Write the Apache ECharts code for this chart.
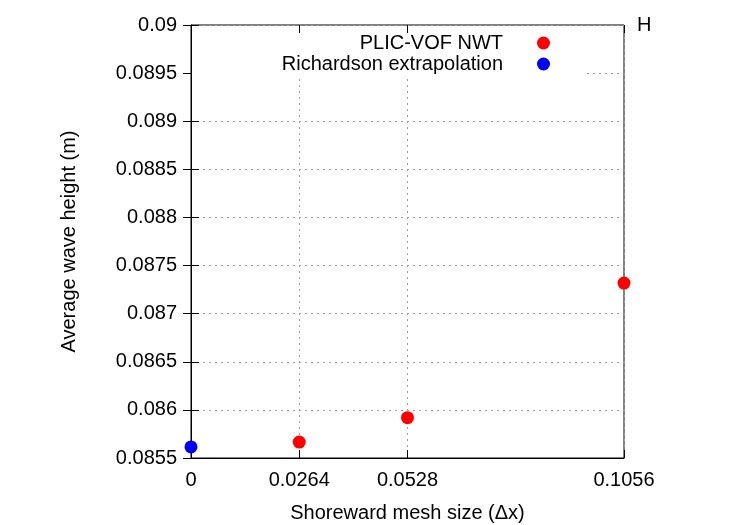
<!DOCTYPE html>
<html>
<head>
<meta charset="utf-8">
<script src="https://cdn.jsdelivr.net/npm/echarts@6/dist/echarts.min.js"></script>
<style>
  html, body { margin: 0; padding: 0; background: #fff; }
  #chart { width: 750px; height: 525px; }
</style>
</head>
<body>
<div id="chart"></div>
<script>
// data
const xTicks = [0, 0.0264, 0.0528, 0.1056]
const plicX = [0.0264, 0.0528, 0.1056]
const plicH = [0.085665, 0.085919, 0.087318]
const richX = [0]
const richH = [0.085615]

const font = 'Liberation Sans, Arial, sans-serif'
const gridLine = { color: '#a0a0a0', width: 1, type: [2, 4] }

const chart = echarts.init(document.getElementById('chart'))

chart.setOption({
  animation: false,
  textStyle: { fontFamily: font },
  grid: {
    left: 191,
    right: 126,
    top: 25,
    bottom: 67,
    outerBoundsMode: 'none',
    containLabel: false,
    show: true,
    borderColor: '#000',
    borderWidth: 1
  },
  graphic: [
    // opaque key box, hides grid lines behind it (like gnuplot)
    { type: 'rect', z: 1, shape: { x: 192, y: 26, width: 393, height: 49 }, style: { fill: '#fff' } },
    { type: 'text', z: 5, left: 637, top: 15, style: { text: 'H', fontSize: 20, fontFamily: font, fill: '#000' } }
  ],
  legend: [{
    data: ['PLIC-VOF NWT'],
    right: 200,
    top: 33,
    padding: 0,
    align: 'right',
    itemWidth: 13,
    itemHeight: 13,
    selectedMode: false,
    textStyle: { fontSize: 20, color: '#000', fontFamily: font, padding: [0, 29, 0, 0] }
  }, {
    data: ['Richardson extrapolation'],
    right: 200,
    top: 54,
    padding: 0,
    align: 'right',
    itemWidth: 13,
    itemHeight: 13,
    selectedMode: false,
    textStyle: { fontSize: 20, color: '#000', fontFamily: font, padding: [0, 29, 0, 0] }
  }],
  xAxis: [{
    type: 'value',
    min: 0,
    max: 0.1056,
    name: 'Shoreward mesh size (\u0394x)',
    nameLocation: 'middle',
    nameGap: 45,
    nameTextStyle: { fontSize: 20, color: '#000' },
    axisLine: { show: true, lineStyle: { color: '#000' } },
    axisTick: { show: true, inside: true, length: 8, customValues: xTicks, lineStyle: { color: '#000' } },
    axisLabel: { customValues: xTicks, fontSize: 20, color: '#000', margin: 12, formatter: v => String(+v.toFixed(4)) },
    splitLine: { show: true, lineStyle: gridLine }
  }, {
    type: 'value',
    position: 'top',
    min: 0,
    max: 0.1056,
    z: 5,
    axisLine: { show: false },
    axisTick: { show: true, inside: true, length: 8, customValues: xTicks, lineStyle: { color: '#000' } },
    axisLabel: { show: false },
    splitLine: { show: false }
  }],
  yAxis: [{
    type: 'value',
    min: 0.0855,
    max: 0.09,
    interval: 0.0005,
    name: 'Average wave height (m)',
    nameLocation: 'middle',
    nameGap: 112,
    nameRotate: 90,
    nameTextStyle: { fontSize: 20, color: '#000' },
    axisLine: { show: true, lineStyle: { color: '#000' } },
    axisTick: { show: true, inside: true, length: 8, lineStyle: { color: '#000' } },
    axisLabel: { fontSize: 20, color: '#000', margin: 14, formatter: v => String(+v.toFixed(4)) },
    splitLine: { show: true, lineStyle: gridLine }
  }, {
    type: 'value',
    position: 'right',
    min: 0.0855,
    max: 0.09,
    interval: 0.0005,
    z: 5,
    axisLine: { show: false },
    axisTick: { show: true, inside: true, length: 8, lineStyle: { color: '#000' } },
    axisLabel: { show: false },
    splitLine: { show: false }
  }],
  series: [{
    name: 'PLIC-VOF NWT',
    type: 'scatter',
    symbolSize: 13,
    itemStyle: { color: '#ff0000', opacity: 1 },
    z: 3,
    data: plicX.map((x, i) => [x, plicH[i]])
  }, {
    name: 'Richardson extrapolation',
    type: 'scatter',
    symbolSize: 13,
    itemStyle: { color: '#0000ff', opacity: 1 },
    z: 3,
    data: richX.map((x, i) => [x, richH[i]])
  }]
})
</script>
</body>
</html>
